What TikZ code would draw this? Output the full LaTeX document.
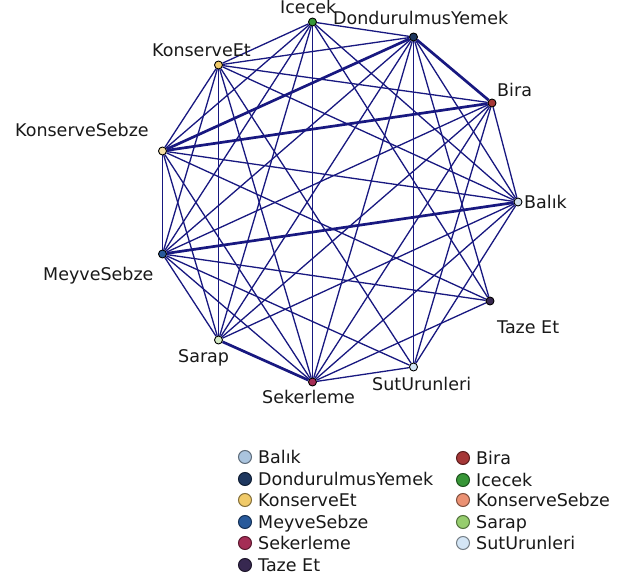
\documentclass[tikz,border=0pt]{standalone}
\usepackage{fontspec}
\setmainfont{DejaVu Sans}
\usetikzlibrary{backgrounds}

\definecolor{edgeblue}{RGB}{24,24,128}
\definecolor{cBalik}{RGB}{170,196,222}
\definecolor{cDond}{RGB}{30,55,95}
\definecolor{cKEt}{RGB}{240,202,105}
\definecolor{cMeyve}{RGB}{40,90,155}
\definecolor{cSeker}{RGB}{165,45,85}
\definecolor{cTaze}{RGB}{55,40,80}
\definecolor{cBira}{RGB}{165,55,55}
\definecolor{cIcecek}{RGB}{55,150,55}
\definecolor{cKSebze}{RGB}{235,145,115}
\definecolor{cSarap}{RGB}{150,205,110}
\definecolor{cSut}{RGB}{212,230,246}

\begin{document}
\begin{tikzpicture}[x=1pt,y=-1pt,
  vert/.style={circle,draw=black,line width=0.9pt,inner sep=0pt,minimum size=8pt},
  link/.style={draw=edgeblue,line width=1.3pt},
  heavy/.style={draw=edgeblue,line width=2.7pt},
  lbl/.style={font=\fontsize{17.5}{20}\selectfont,text=black!90,inner sep=0pt},
  key/.style={circle,line width=1pt,inner sep=0pt,minimum size=13pt}]

\useasboundingbox (0,0) rectangle (621,585);

% graph vertices (x on half units keeps vertical edges crisp)
\node[vert,fill=cIcecek] (nI)  at (312.5,22)  {};
\node[vert,fill=cDond]   (nD)  at (413.5,37)  {};
\node[vert,fill=cBira]   (nB)  at (492,103) {};
\node[vert,fill=cBalik!50!white] (nL) at (518,202) {};
\node[vert,fill=cTaze]   (nT)  at (490,301) {};
\node[vert,fill=cSut]    (nU)  at (413.5,367) {};
\node[vert,fill=cSeker]  (nS)  at (312.5,382) {};
\node[vert,fill=cSarap!40!white] (nR) at (218.5,340) {};
\node[vert,fill=cMeyve]  (nM)  at (162.5,254) {};
\node[vert,fill=cKEt!60!white] (nKS) at (162.5,151) {};
\node[vert,fill=cKEt]    (nKE) at (218.5,65)  {};

% vertex labels
\node[lbl,anchor=base west] (tI)  at (280,14)  {Icecek};
\node[lbl,anchor=base west] (tD)  at (333,25)  {DondurulmusYemek};
\node[lbl,anchor=base west] (tB)  at (497,97)  {Bira};
\node[lbl,anchor=base west] (tL)  at (524,209) {Balık};
\node[lbl,anchor=base west] (tT)  at (497,333) {Taze Et};
\node[lbl,anchor=base west] (tU)  at (372,390) {SutUrunleri};
\node[lbl,anchor=base west] (tS)  at (262,403) {Sekerleme};
\node[lbl,anchor=base west] (tR)  at (178,362) {Sarap};
\node[lbl,anchor=base west] (tM)  at (43,280)  {MeyveSebze};
\node[lbl,anchor=base west] (tKS) at (15,137)  {KonserveSebze};
\node[lbl,anchor=base west] (tKE) at (152,57)  {KonserveEt};

% white page and the edges beneath the vertices
\begin{scope}[on background layer]
  \fill[white] (0,0) rectangle (621,585);
  \foreach \a/\b in {nI/nD,nI/nKE,nI/nKS,nI/nM,nI/nR,nI/nS,nI/nT,nI/nL,
                     nD/nKE,nD/nM,nD/nR,nD/nS,nD/nU,nD/nT,nD/nL,
                     nB/nL,nB/nKE,nB/nM,nB/nR,nB/nS,nB/nU,
                     nL/nKS,nL/nKE,nL/nR,nL/nS,nL/nU,
                     nT/nKS,nT/nM,nT/nS,
                     nU/nKE,nU/nM,nU/nS,
                     nS/nM,nS/nKS,nS/nKE,
                     nR/nM,nR/nKS,nR/nKE,
                     nM/nKS,nM/nKE,
                     nKS/nKE}
    \draw[link] (\a) -- (\b);
  \draw[heavy] (nD) -- (nKS);
  \draw[heavy] (nB) -- (nKS);
  \draw[heavy] (nL) -- (nM);
  \draw[heavy] (nR) -- (nS);
  \draw[heavy] (nD) -- (nB);
\end{scope}

% legend, left column
\foreach \n/\c/\y/\t in {kL/cBalik/457/Balık,
                          kD/cDond/479/DondurulmusYemek,
                          kKE/cKEt/500/KonserveEt,
                          kM/cMeyve/522/MeyveSebze,
                          kS/cSeker/543/Sekerleme,
                          kT/cTaze/565/Taze Et}{
  \node[key,fill=\c,draw=\c!55!black] (\n) at (245,\y) {};
  \node[lbl,anchor=base west] (\n t) at (258,\y+6.3) {\t};
}
% legend, right column
\foreach \n/\c/\y/\t in {kB/cBira/458/Bira,
                          kI/cIcecek/480/Icecek,
                          kKS/cKSebze/500/KonserveSebze,
                          kR/cSarap/522/Sarap,
                          kU/cSut/543/SutUrunleri}{
  \node[key,fill=\c,draw=\c!55!black] (\n) at (463,\y) {};
  \node[lbl,anchor=base west] (\n t) at (476,\y+6.3) {\t};
}
\end{tikzpicture}
\end{document}
